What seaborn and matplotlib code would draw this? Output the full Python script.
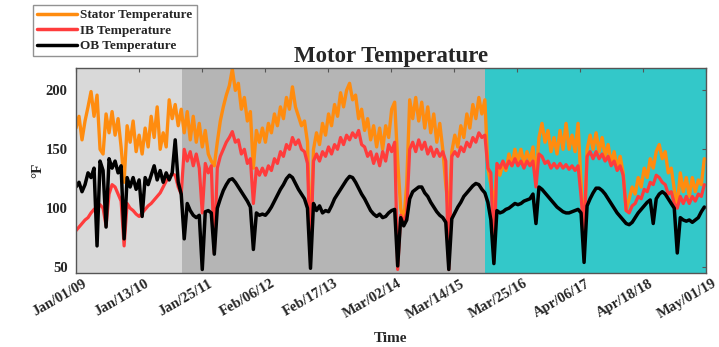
import pandas as pd
import matplotlib
matplotlib.use("Agg")
import matplotlib.pyplot as plt
import matplotlib.dates as mdates
import matplotlib.transforms as mtransforms
import seaborn as sns

# Sensor log sampled every 18 days from the start date
sample_start = "2009-01-01"
sample_step = "18D"

stator_temp = [
    168, 178, 158, 174, 186, 199, 178, 196, 150, 146,
    180, 164, 182, 162, 176, 152, 122, 170, 156, 174,
    148, 162, 146, 168, 152, 178, 160, 186, 150, 164,
    152, 192, 176, 188, 170, 184, 164, 182, 158, 178,
    156, 172, 152, 166, 146, 140, 136, 156, 174, 186,
    196, 204, 218, 200, 206, 184, 194, 174, 182, 134,
    166, 156, 168, 156, 172, 164, 180, 170, 186, 176,
    194, 184, 203, 186, 178, 170, 174, 156, 67, 150,
    164, 154, 172, 162, 180, 170, 188, 178, 198, 186,
    200, 206, 192, 196, 176, 184, 166, 176, 158, 170,
    152, 168, 150, 170, 160, 184, 190, 140, 100, 88,
    120, 192, 176, 194, 174, 190, 168, 186, 164, 180,
    156, 172, 150, 120, 95, 148, 162, 152, 170, 160,
    180, 168, 188, 176, 194, 180, 192, 134, 120, 100,
    134, 128, 138, 132, 146, 136, 150, 140, 150, 138,
    148, 140, 152, 125, 160, 172, 156, 166, 148, 160,
    146, 166, 150, 172, 150, 162, 148, 172, 120, 73,
    150, 162, 150, 164, 148, 160, 144, 154, 138, 148,
    134, 144, 130, 98, 108, 118, 112, 126, 118, 134,
    126, 142, 134, 148, 154, 142, 148, 130, 134, 116,
    102, 130, 114, 126, 110, 126, 114, 124, 120, 142,
]

ib_temp = [
    81, 84, 87, 90, 92, 96, 99, 101, 103, 100,
    85, 112, 120, 118, 112, 106, 68, 104, 100, 98,
    95, 93, 96, 99, 102, 104, 107, 110, 113, 118,
    123, 126, 129, 128, 118, 112, 150, 140, 148, 136,
    146, 134, 96, 138, 130, 136, 62, 134, 144, 150,
    156, 160, 165, 156, 158, 146, 150, 138, 142, 104,
    134, 128, 134, 128, 136, 132, 142, 138, 148, 144,
    154, 150, 160, 154, 158, 150, 148, 138, 60, 140,
    146, 140, 148, 144, 152, 146, 154, 150, 160, 154,
    162, 158, 164, 160, 166, 154, 152, 144, 148, 138,
    146, 136, 148, 140, 154, 148, 156, 48, 94, 88,
    96, 150, 156, 148, 158, 150, 156, 146, 152, 144,
    150, 144, 148, 140, 48, 144, 148, 144, 152, 148,
    156, 152, 160, 156, 164, 160, 162, 134, 130, 55,
    138, 134, 140, 134, 140, 136, 142, 136, 140, 134,
    140, 136, 140, 118, 146, 144, 138, 140, 134, 138,
    134, 138, 134, 137, 133, 136, 132, 136, 110, 79,
    144, 148, 142, 148, 142, 146, 140, 144, 136, 140,
    132, 136, 128, 98, 96, 102, 104, 110, 108, 116,
    114, 122, 120, 128, 126, 122, 120, 112, 114, 104,
    100, 110, 104, 110, 104, 110, 106, 112, 110, 120,
]

ob_temp = [
    118, 122, 114, 120, 130, 126, 134, 68, 140, 132,
    84, 142, 134, 140, 130, 136, 74, 126, 118, 126,
    116, 124, 93, 126, 120, 128, 136, 124, 132, 122,
    130, 124, 130, 158, 122, 112, 74, 104, 98, 94,
    92, 94, 48, 97, 98, 96, 61, 100, 108, 115,
    120, 124, 125, 122, 118, 114, 110, 106, 101, 65,
    96, 94, 95, 94, 97, 101, 106, 111, 116, 120,
    125, 128, 126, 121, 116, 112, 108, 100, 49, 104,
    98, 102, 96, 98, 97, 102, 108, 112, 116, 120,
    124, 127, 126, 122, 117, 112, 108, 103, 98, 95,
    93, 95, 92, 93, 96, 98, 99, 51, 92, 85,
    90, 108, 114, 116, 118, 118, 113, 110, 105, 101,
    97, 94, 92, 88, 48, 91, 96, 101, 105, 110,
    113, 116, 119, 121, 120, 116, 113, 105, 90, 53,
    98, 96, 97, 99, 100, 102, 104, 103, 104, 106,
    107, 108, 112, 87, 118, 116, 113, 110, 107, 104,
    101, 99, 97, 96, 96, 97, 98, 99, 96, 54,
    102, 108, 113, 117, 117, 115, 112, 108, 104, 100,
    96, 93, 90, 87, 86, 88, 92, 96, 99, 102,
    105, 107, 87, 108, 112, 114, 112, 108, 104, 100,
    62, 92, 90, 89, 90, 88, 90, 92, 97, 101,
]

series_names = ["Stator Temperature", "IB Temperature", "OB Temperature"]
series_colors = ["#ff8c0f", "#ff3c3c", "#000000"]
series_widths = [2.4, 2.3, 2.5]

# Operating periods shaded behind the traces
period_edges = ["2009-01-01", "2010-09-27", "2015-09-17", "2019-05-01"]
period_colors = ["#d9d9d9", "#b5b5b5", "#33c8c9"]

tick_dates = ["2009-01-01", "2010-01-13", "2011-01-25", "2012-02-06",
              "2013-02-17", "2014-03-02", "2015-03-14", "2016-03-25",
              "2017-04-06", "2018-04-18", "2019-05-01"]
y_ticks = [50, 100, 150, 200]

sns.set_theme(style="white")
plt.rcParams["font.family"] = ["Liberation Serif", "DejaVu Serif"]
plt.rcParams["font.weight"] = "bold"

times = pd.date_range(sample_start, periods=len(stator_temp), freq=sample_step)
frame = pd.DataFrame({
    "Time": times,
    series_names[0]: stator_temp,
    series_names[1]: ib_temp,
    series_names[2]: ob_temp,
})

fig = plt.figure(figsize=(7.19, 3.47), dpi=100)
ax = fig.add_axes([76 / 719, 1 - 273 / 347, 630 / 719, 205 / 347])

for lo, hi, col in zip(period_edges[:-1], period_edges[1:], period_colors):
    ax.axvspan(pd.Timestamp(lo), pd.Timestamp(hi), color=col, lw=0, zorder=0)

for name, col, lw in zip(series_names, series_colors, series_widths):
    sns.lineplot(data=frame, x="Time", y=name, color=col, linewidth=lw,
                 ax=ax, label=name, legend=False, zorder=2)

ax.set_xlim(pd.Timestamp(period_edges[0]), pd.Timestamp(period_edges[-1]))
ax.set_ylim(45, 219)
ax.set_yticks(y_ticks)
ax.set_xticks([pd.Timestamp(d) for d in tick_dates])
ax.xaxis.set_major_formatter(mdates.DateFormatter("%b/%d/%y"))

ax.tick_params(axis="both", which="major", direction="in", length=3,
               width=0.8, color="#555555", top=True, right=True,
               labelsize=10.5)
ax.tick_params(axis="y", pad=6)
ax.tick_params(axis="x", pad=3)
offset = mtransforms.ScaledTranslation(6 / 100, 0, fig.dpi_scale_trans)
for lab in ax.get_xticklabels():
    lab.set_rotation(30)
    lab.set_ha("right")
    lab.set_va("top")
    lab.set_rotation_mode("anchor")
    lab.set_fontweight("bold")
    lab.set_transform(lab.get_transform() + offset)
for lab in ax.get_yticklabels():
    lab.set_fontweight("bold")

for sp in ax.spines.values():
    sp.set_color("#555555")
    sp.set_linewidth(1.0)

ax.set_title("Motor Temperature", fontsize=16.5, fontweight="bold", pad=4)
ax.set_ylabel("°F", fontsize=11, fontweight="bold")
ax.yaxis.set_label_coords(-32 / 630, 0.5)
ax.set_xlabel("Time", fontsize=11, fontweight="bold")
ax.xaxis.set_label_coords(0.5, -0.29)

handles = ax.get_lines()[:3]
leg = fig.legend(handles, series_names, loc="upper left",
                 bbox_to_anchor=(33 / 719, 1 - 5 / 347), borderaxespad=0,
                 frameon=True, fancybox=False, edgecolor="#777777",
                 prop={"weight": "bold", "size": 9.5}, handlelength=3.0,
                 labelspacing=0.25, borderpad=0.3, handletextpad=0.3)
leg.get_frame().set_linewidth(1.0)
for line in leg.get_lines():
    line.set_linewidth(2.5)

fig.savefig("out.png", dpi=100)
